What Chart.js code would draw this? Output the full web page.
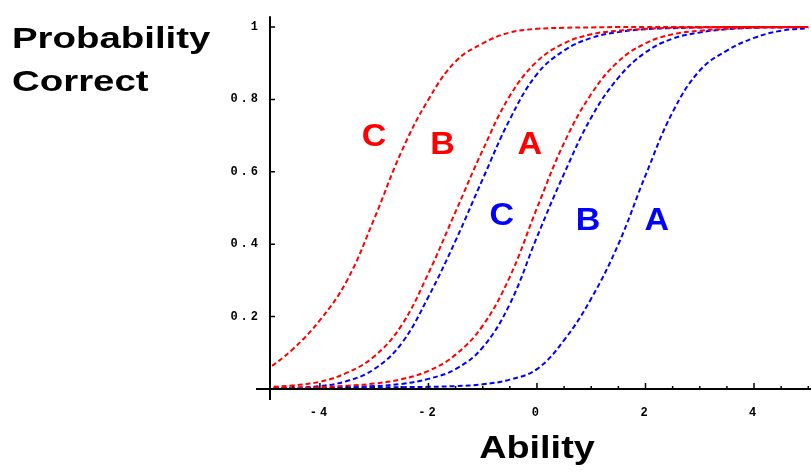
<!DOCTYPE html>
<html>
<head>
<meta charset="utf-8">
<script src="https://cdn.jsdelivr.net/npm/chart.js@4.4.1/dist/chart.umd.min.js"></script>
<style>
  html, body { margin: 0; padding: 0; background: #fff; }
  #wrap { width: 811px; height: 472px; position: relative; }
</style>
</head>
<body>
<div id="wrap"><canvas id="icc"></canvas></div>
<script>
// ability grid (x) and probability of a correct answer for each item curve
const abilities = [-5, -4.5, -4, -3.5, -3, -2.5, -2, -1.5, -1, -0.5, 0, 0.5, 1, 1.5, 2, 2.5, 3, 3.5, 4, 4.5, 5];

const redC  = [0.05, 0.11, 0.19, 0.30, 0.47, 0.655, 0.80, 0.905, 0.955, 0.985, 0.995, 0.998, 0.999, 1, 1, 1, 1, 1, 1, 1, 1];
const redB  = [0.005, 0.01, 0.02, 0.045, 0.09, 0.175, 0.32, 0.49, 0.66, 0.81, 0.905, 0.955, 0.98, 0.99, 0.995, 0.998, 0.999, 1, 1, 1, 1];
const redA  = [0.002, 0.003, 0.005, 0.009, 0.015, 0.027, 0.05, 0.095, 0.175, 0.31, 0.50, 0.68, 0.815, 0.905, 0.955, 0.98, 0.99, 0.995, 0.998, 0.999, 1];
const blueC = [0.002, 0.004, 0.008, 0.022, 0.055, 0.125, 0.255, 0.41, 0.58, 0.745, 0.87, 0.935, 0.97, 0.986, 0.994, 0.997, 0.999, 1, 1, 1, 1];
const blueB = [0.001, 0.002, 0.003, 0.005, 0.008, 0.014, 0.028, 0.055, 0.115, 0.235, 0.42, 0.595, 0.75, 0.86, 0.93, 0.968, 0.985, 0.994, 0.998, 0.999, 1];
const blueA = [0.002, 0.002, 0.003, 0.003, 0.004, 0.005, 0.006, 0.008, 0.013, 0.026, 0.055, 0.135, 0.25, 0.40, 0.59, 0.765, 0.88, 0.935, 0.97, 0.99, 0.997];

const xTickValues = [-4, -2, 0, 2, 4];
const yTickValues = [0.2, 0.4, 0.6, 0.8, 1];

const RED = '#ff0000';
const BLUE = '#0000ff';

function series(values, color) {
    return {
        data: abilities.map((a, i) => ({ x: a, y: values[i] })),
        borderColor: color,
        borderWidth: 2,
        borderDash: [5, 3],
        pointRadius: 0,
        fill: false,
        tension: 0.4
    };
}

// stretched bold text like the old bitmap labels
function wideText(ctx, txt, x, y, scaleX, align) {
    const w = ctx.measureText(txt).width * scaleX;
    let left = x;
    if (align === 'center') left = x - w / 2;
    ctx.save();
    ctx.translate(left, y);
    ctx.scale(scaleX, 1);
    ctx.fillText(txt, 0, 0);
    ctx.restore();
}

const overlay = {
    id: 'overlay',
    beforeDraw(chart) {
        // spaced out tick digits
        chart.ctx.letterSpacing = '3px';
    },
    afterDatasetsDraw(chart) {
        const { ctx, scales: { x, y } } = chart;
        const x0 = x.getPixelForValue(x.min);
        const y0 = y.getPixelForValue(0);

        ctx.save();
        ctx.letterSpacing = '0px';

        // axes
        ctx.strokeStyle = '#000';
        ctx.lineWidth = 2;
        ctx.beginPath();
        ctx.moveTo(x0, y0 + 11);
        ctx.lineTo(x0, y.getPixelForValue(y.max));
        ctx.moveTo(x0 - 14, y0);
        ctx.lineTo(chart.width, y0);
        ctx.stroke();

        // inward ticks
        ctx.lineWidth = 1.5;
        ctx.beginPath();
        yTickValues.forEach(v => {
            const py = y.getPixelForValue(v);
            ctx.moveTo(x0, py);
            ctx.lineTo(x0 + 5, py);
        });
        xTickValues.forEach(v => {
            const px = x.getPixelForValue(v);
            ctx.moveTo(px, y0);
            ctx.lineTo(px, y0 - 6);
        });
        for (let v = -4.5; v <= 5; v += 0.5) {
            if (xTickValues.includes(v)) continue;
            const px = x.getPixelForValue(v);
            ctx.moveTo(px, y0);
            ctx.lineTo(px, y0 - 3);
        }
        ctx.stroke();

        // axis titles
        ctx.fillStyle = '#000';
        ctx.textBaseline = 'alphabetic';
        ctx.font = 'bold 30px "Liberation Sans", Arial, sans-serif';
        wideText(ctx, 'Probability', 12, 48, 1.28, 'left');
        wideText(ctx, 'Correct', 12, 91, 1.28, 'left');
        ctx.font = 'bold 31px "Liberation Sans", Arial, sans-serif';
        wideText(ctx, 'Ability', x.getPixelForValue(0), 458, 1.22, 'center');

        // curve letters
        ctx.font = 'bold 31px "Liberation Sans", Arial, sans-serif';
        ctx.textBaseline = 'middle';
        const letters = [
            ['C', -3.0, 0.695, RED], ['B', -1.74, 0.672, RED], ['A', -0.13, 0.672, RED],
            ['C', -0.65, 0.476, BLUE], ['B', 0.94, 0.462, BLUE], ['A', 2.21, 0.462, BLUE]
        ];
        letters.forEach(([t, lx, ly, c]) => {
            ctx.fillStyle = c;
            wideText(ctx, t, x.getPixelForValue(lx), y.getPixelForValue(ly), 1.1, 'center');
        });
        ctx.restore();
    }
};

new Chart(document.getElementById('icc').getContext('2d'), {
    type: 'line',
    data: {
        datasets: [
            series(redC, RED), series(redB, RED), series(redA, RED),
            series(blueC, BLUE), series(blueB, BLUE), series(blueA, BLUE)
        ]
    },
    options: {
        responsive: true,
        maintainAspectRatio: false,
        animation: false,
        layout: { padding: { top: 12, right: 0, left: 0, bottom: 0 } },
        plugins: {
            legend: { display: false },
            tooltip: { enabled: false }
        },
        scales: {
            x: {
                type: 'linear',
                min: -4.92,
                max: 5.05,
                afterBuildTicks: s => { s.ticks = xTickValues.map(v => ({ value: v })); },
                afterFit: s => { s.height = 83; },
                grid: { display: false, drawTicks: false },
                border: { display: false },
                ticks: {
                    color: '#000',
                    padding: 17,
                    maxRotation: 0,
                    font: { family: '"Liberation Mono", monospace', size: 12, weight: 'bold' },
                    callback: v => String(v)
                }
            },
            y: {
                min: 0,
                max: 1.03,
                afterBuildTicks: s => { s.ticks = yTickValues.map(v => ({ value: v })); },
                afterFit: s => { s.width = 270; },
                grid: { display: false, drawTicks: false },
                border: { display: false },
                ticks: {
                    color: '#000',
                    padding: 9,
                    font: { family: '"Liberation Mono", monospace', size: 12, weight: 'bold' },
                    callback: v => String(v)
                }
            }
        }
    },
    plugins: [overlay]
});
</script>
</body>
</html>
